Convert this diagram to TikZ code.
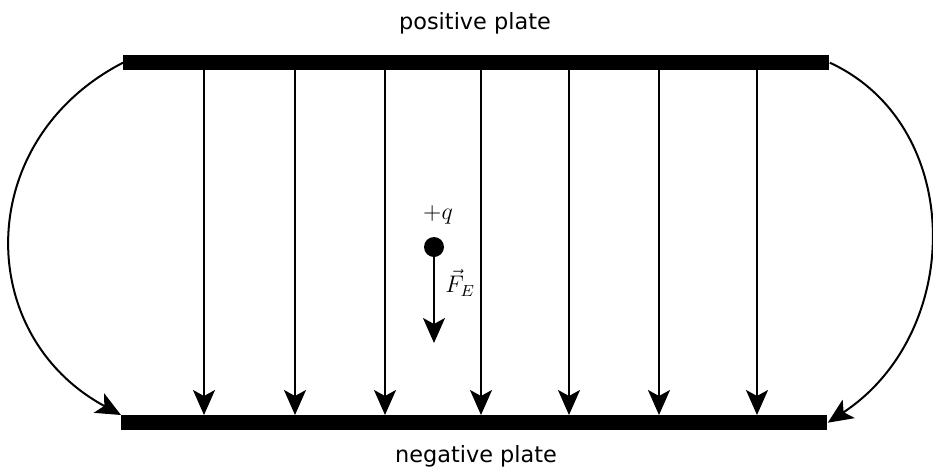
\documentclass[tikz,border=0pt]{standalone}
\usepackage{fontspec}
\setsansfont{DejaVu Sans}
\usepackage{amsmath}
\usetikzlibrary{arrows.meta,positioning,calc}
\tikzset{
  fieldarrow/.style={-{Stealth[length=12.5pt,width=11pt,inset=3pt]}, line width=1pt, draw=black},
  platebar/.style={rectangle, fill=black, inner sep=0pt, minimum height=7.3pt, anchor=north west},
  platelabel/.style={font=\sffamily\fontsize{11.2}{13}\selectfont, inner sep=0pt},
  chargedot/.style={circle, fill=black, inner sep=0pt, minimum size=10pt},
  mathlabel/.style={font=\fontsize{11.5}{13}\selectfont, inner sep=0pt},
}
\begin{document}
\begin{tikzpicture}[x=0.5pt,y=-0.5pt]
\path[use as bounding box] (0,0) rectangle (933,467);

% plates
\node[platebar,minimum width=353pt] (pos) at (123,55) {};
\node[platebar,minimum width=353pt] (neg) at (121,415) {};
\node[platelabel] (poslab) at (475,23) {positive plate};
\node[platelabel] (neglab) at (476,456) {negative plate};

% uniform field lines
\foreach \x [count=\i] in {204,295,385,481,569,659,757}{
  \coordinate (top\i) at (\x,62);
  \coordinate (bot\i) at (\x,415);
  \draw[fieldarrow] (top\i |- pos.south) -- (bot\i |- neg.north);
}

% fringing field at the ends
\draw[fieldarrow] (pos.west) .. controls (-27,140) and (-27,335) .. (neg.north west);
\draw[fieldarrow] (pos.east) .. controls (965,125) and (965,332) .. (neg.east);

% test charge and force
\node[chargedot] (q) at (434,247) {};
\node[mathlabel] (qlab) at (438,215) {$+q$};
\coordinate (ftip) at (434,343);
\draw[fieldarrow] (q.south) -- (ftip);
\node[mathlabel,anchor=west] (flab) at (445,283) {$\vec{F}_{E}$};
\end{tikzpicture}
\end{document}
